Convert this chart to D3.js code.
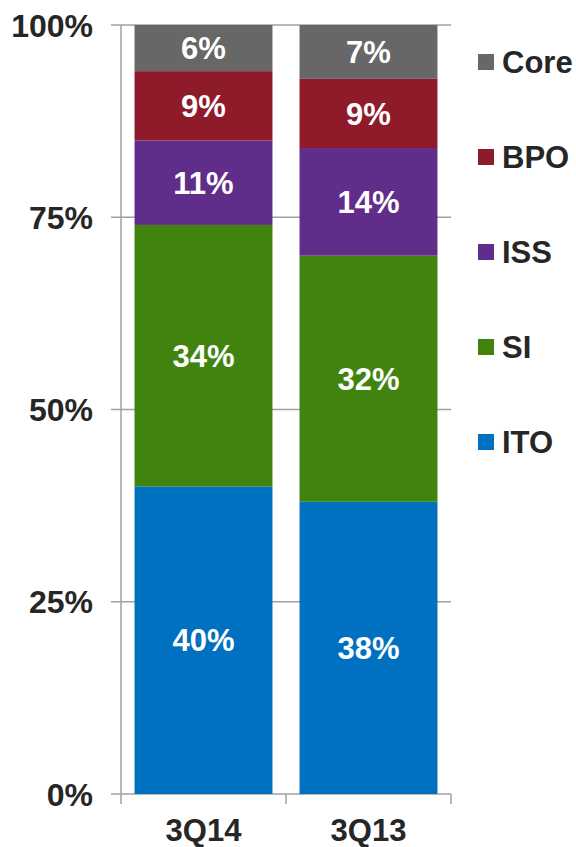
<!DOCTYPE html>
<html>
<head>
<meta charset="utf-8">
<script src="https://cdn.jsdelivr.net/npm/d3@7"></script>
<style>
  body { margin: 0; background: white; }
  svg { display: block; font-family: Arial, "Liberation Sans", sans-serif; }
</style>
</head>
<body>
<script>
// Data
const quarters = ["3Q14", "3Q13"];
const segments = ["ITO", "SI", "ISS", "BPO", "Core"];
const ito = [40, 38];
const si = [34, 32];
const iss = [11, 14];
const bpo = [9, 9];
const core = [6, 7];
const yTicks = [0, 25, 50, 75, 100];

const colors = {
    ITO: "#0070c0",
    SI: "#40840f",
    ISS: "#612d8a",
    BPO: "#8e1a2a",
    Core: "#676767"
};

const rows = quarters.map((q, i) => ({
    quarter: q, ITO: ito[i], SI: si[i], ISS: iss[i], BPO: bpo[i], Core: core[i]
}));

// Margins
const margin = {left: 121, top: 25, right: 125, bottom: 53};
const outerWidth = 576;
const outerHeight = 847;
const width = outerWidth - margin.left - margin.right;
const height = outerHeight - margin.top - margin.bottom;

const svg = d3.select("body").append("svg")
    .attr("width", outerWidth)
    .attr("height", outerHeight);

const canvas = svg.append("g")
    .attr("transform", `translate(${margin.left}, ${margin.top})`);

// Scales
const xScale = d3.scaleBand()
    .domain(quarters)
    .range([0, width])
    .padding(0);

const yScale = d3.scaleLinear()
    .domain([0, 100])
    .range([height, 0]);

const barWidth = xScale.bandwidth() * 0.836;

// Gridlines
canvas.selectAll(".grid")
    .data(yTicks)
    .join("line")
    .attr("class", "grid")
    .attr("x1", -10)
    .attr("x2", width)
    .attr("y1", d => yScale(d))
    .attr("y2", d => yScale(d))
    .attr("stroke", "#a0a0a0")
    .attr("stroke-width", 1.5);

// Y axis labels
canvas.selectAll(".ylabel")
    .data(yTicks)
    .join("text")
    .attr("class", "ylabel")
    .attr("x", -28)
    .attr("y", d => yScale(d))
    .attr("dy", "0.36em")
    .attr("text-anchor", "end")
    .style("font-size", "32px")
    .style("font-weight", "bold")
    .style("fill", "#262626")
    .text(d => d + "%");

// Y axis line
canvas.append("line")
    .attr("x1", 0).attr("x2", 0)
    .attr("y1", 0).attr("y2", height)
    .attr("stroke", "#a0a0a0")
    .attr("stroke-width", 1.5);

// X axis ticks
const xTickPos = quarters.map(q => xScale(q)).concat([width]);
canvas.selectAll(".xtick")
    .data(xTickPos)
    .join("line")
    .attr("class", "xtick")
    .attr("x1", d => d).attr("x2", d => d)
    .attr("y1", height).attr("y2", height + 10)
    .attr("stroke", "#a0a0a0")
    .attr("stroke-width", 1.5);

// Stacked bars
const stack = d3.stack().keys(segments);
const series = stack(rows);

const groups = canvas.selectAll(".series")
    .data(series)
    .join("g")
    .attr("class", "series")
    .attr("fill", d => colors[d.key]);

groups.selectAll("rect")
    .data(d => d)
    .join("rect")
    .attr("x", d => xScale(d.data.quarter) + (xScale.bandwidth() - barWidth) / 2)
    .attr("width", barWidth)
    .attr("y", d => yScale(d[1]))
    .attr("height", d => yScale(d[0]) - yScale(d[1]));

groups.selectAll("text")
    .data(d => d.map(v => ({v: v, key: d.key})))
    .join("text")
    .attr("x", d => xScale(d.v.data.quarter) + xScale.bandwidth() / 2)
    .attr("y", d => (yScale(d.v[0]) + yScale(d.v[1])) / 2)
    .attr("dy", "0.36em")
    .attr("text-anchor", "middle")
    .style("font-size", "31px")
    .style("font-weight", "bold")
    .style("fill", "white")
    .text(d => d.v.data[d.key] + "%");

// X labels
canvas.selectAll(".xlabel")
    .data(quarters)
    .join("text")
    .attr("class", "xlabel")
    .attr("x", d => xScale(d) + xScale.bandwidth() / 2)
    .attr("y", height + 47)
    .attr("text-anchor", "middle")
    .style("font-size", "31px")
    .style("font-weight", "bold")
    .style("fill", "#262626")
    .text(d => d);

// Legend
const legendOrder = segments.slice().reverse();
const legend = svg.selectAll(".legend")
    .data(legendOrder)
    .join("g")
    .attr("class", "legend")
    .attr("transform", (d, i) => `translate(478, ${62 + i * 95})`);

legend.append("rect")
    .attr("x", 0)
    .attr("y", -8)
    .attr("width", 16)
    .attr("height", 16)
    .attr("fill", d => colors[d]);

legend.append("text")
    .attr("x", 24)
    .attr("y", 0)
    .attr("dy", "0.36em")
    .style("font-size", "31px")
    .style("font-weight", "bold")
    .style("fill", "#262626")
    .text(d => d);
</script>
</body>
</html>
